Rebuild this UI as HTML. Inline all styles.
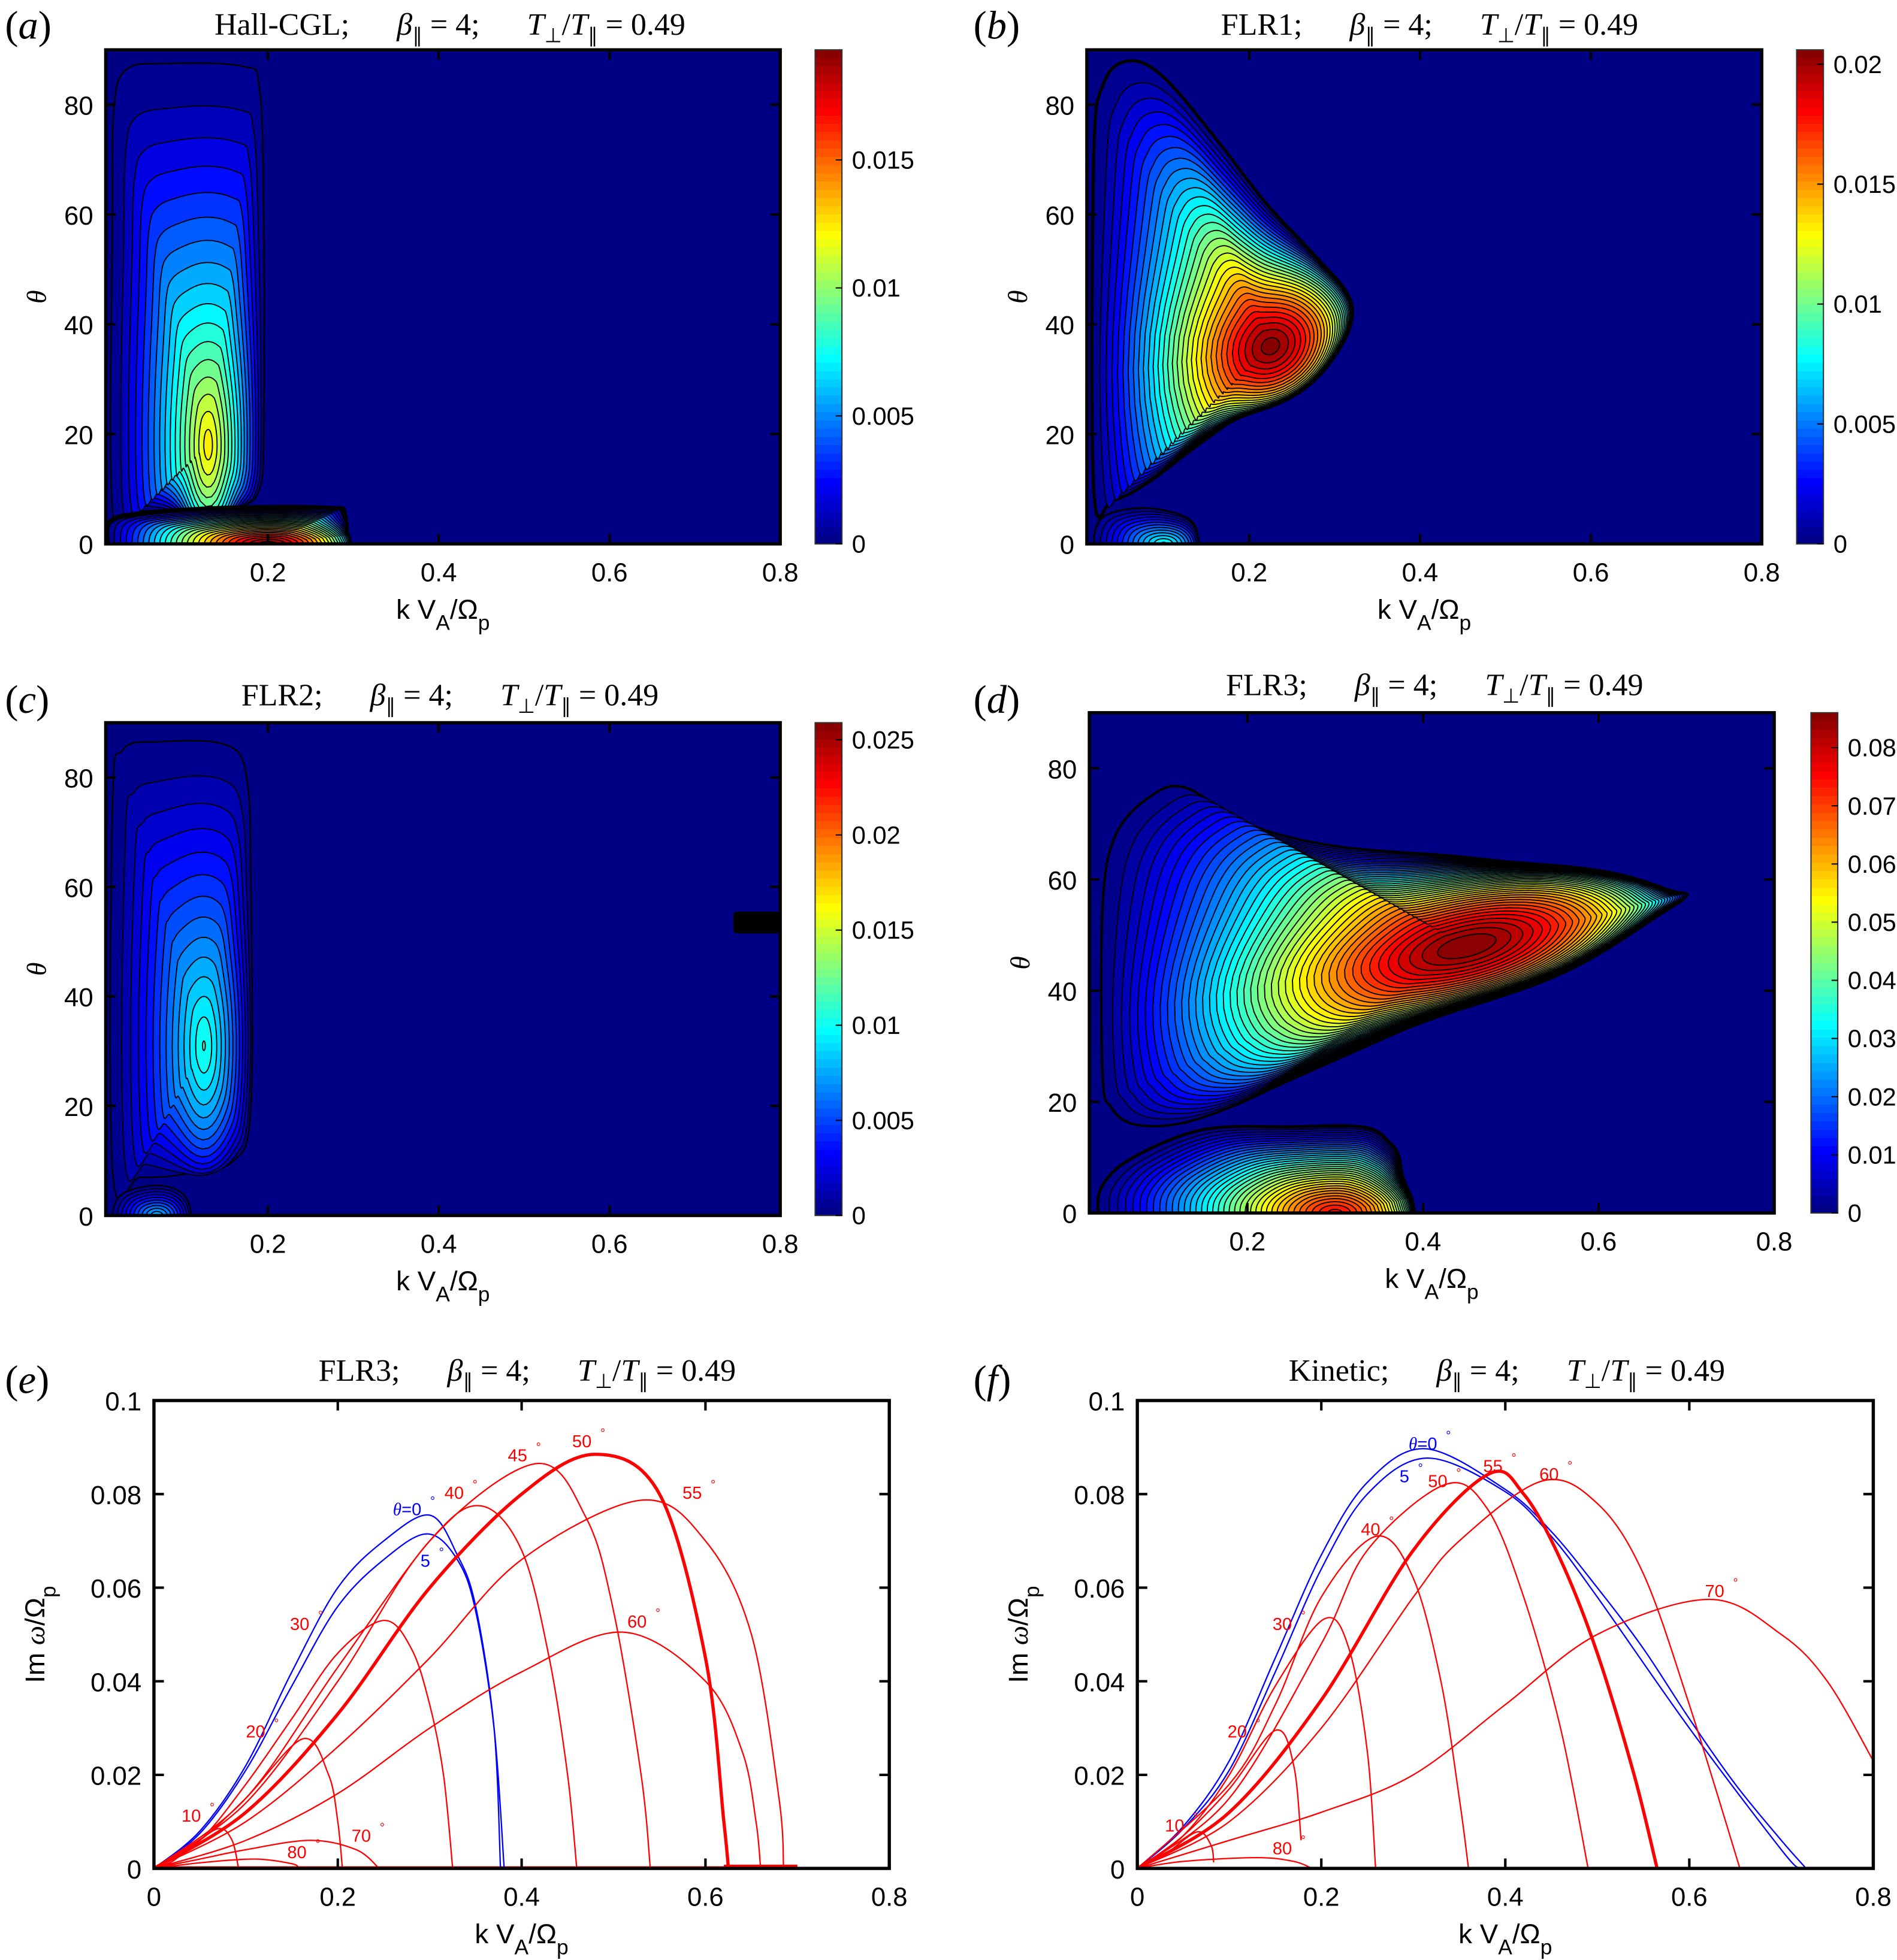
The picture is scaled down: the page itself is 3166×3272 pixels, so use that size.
<!DOCTYPE html>
<html><head><meta charset="utf-8">
<style>
html,body{margin:0;padding:0;background:#fff;}
svg{display:block;}
text{font-family:"Liberation Sans",sans-serif;}
.serif{font-family:"Liberation Serif",serif;}
</style></head>
<body>
<svg id="fig" xmlns="http://www.w3.org/2000/svg" width="3166" height="3272" viewBox="0 0 1522 1573">
<rect x="0" y="0" width="1522" height="1573" fill="#fff"/>
</svg>
<script>
// ---------- Contour data (k, theta in data units) ----------
const aMax = 0.0193, aStep = 0.00075;
const a1K = [0.018,0.018,0.02,0.035,0.08,0.17,0.19,0.195,0.195,0.19,0.17,0.12,0.05];
const a1T = [6,60,80,86.5,87.5,87,83,60,20,10,7,6.5,6];
const a1Peak = [0.13,18,0.0125];
const a2K = [0.012,0.015,0.05,0.15,0.27,0.29,0.29,0.27,0.15,0.05,0.015];
const a2T = [0,4,5.5,6.5,6.5,5,-5,-6.5,-6.5,-5.5,-4];
const a2Peak = [0.2,0,0.0193];

const bMax = 0.0206, bStep = 0.00065;
const b1K = [0.018,0.018,0.03,0.06,0.1,0.16,0.22,0.28,0.315,0.315,0.29,0.22,0.14,0.08,0.04];
const b1T = [10,70,84,88,85,74,62,52,45,40,35,27,18,11,8];
const b1Peak = [0.225,36,0.0205];
const b2K = [0.018,0.03,0.08,0.13,0.14,0.13,0.08,0.03];
const b2T = [0,5,6.5,4.5,0,-4.5,-6.5,-5];
const b2Peak = [0.1,0,0.008];

const cMax = 0.0259, cStep = 0.0008;
const c1K = [0.018,0.018,0.03,0.07,0.15,0.175,0.18,0.18,0.16,0.1,0.05];
const c1T = [8,75,85,86.5,86,80,60,20,10,7.5,7];
const c1Peak = [0.125,31,0.0105];
const c2K = [0.018,0.03,0.07,0.1,0.11,0.1,0.07,0.03];
const c2T = [0,4,5.5,4,0,-4,-5.5,-4];
const c2Peak = [0.07,0,0.008];

const dMax = 0.086, dStep = 0.002;
const d1K = [0.035,0.035,0.05,0.09,0.13,0.2,0.3,0.45,0.6,0.68,0.7,0.66,0.55,0.45,0.35,0.25,0.18,0.12,0.07,0.045];
const d1T = [25,55,68,75,76.5,70,66,64,61,58,57,53,44,38,31,24,19,16,16,19];
const d1Peak = [0.45,48,0.086];
const d2K = [0.03,0.035,0.07,0.15,0.25,0.33,0.36,0.375,0.375,0.36,0.33,0.25,0.15,0.07,0.035];
const d2T = [0,5,10,15,15.5,15.5,13,8,-8,-13,-15.5,-15.5,-15,-10,-5];
const d2Peak = [0.3,0,0.075];

// colorbar tick labels
const aCbTicks = [0,0.005,0.01,0.015];
const aCbLabels = ["0","0.005","0.01","0.015"];
const bCbTicks = [0,0.005,0.01,0.015,0.02];
const bCbLabels = ["0","0.005","0.01","0.015","0.02"];
const cCbTicks = [0,0.005,0.01,0.015,0.02,0.025];
const cCbLabels = ["0","0.005","0.01","0.015","0.02","0.025"];
const dCbTicks = [0,0.01,0.02,0.03,0.04,0.05,0.06,0.07,0.08];
const dCbLabels = ["0","0.01","0.02","0.03","0.04","0.05","0.06","0.07","0.08"];
const thetaTicks = [0,20,40,60,80];
const kTicksHeat = [0.2,0.4,0.6,0.8];
const kTicksLine = [0,0.2,0.4,0.6,0.8];
const kTickLabelsLine = ["0","0.2","0.4","0.6","0.8"];
const gTicks = [0,0.02,0.04,0.06,0.08,0.1];
const gTickLabels = ["0","0.02","0.04","0.06","0.08","0.1"];

// ---------- Growth-rate curves ----------
const eAngles = ["0","5","10","20","30","40","45","50","55","60","70","80"];
const eK = [
 [0,0.05,0.1,0.15,0.2,0.25,0.3,0.33,0.35,0.37,0.377],
 [0,0.05,0.1,0.15,0.2,0.25,0.297,0.33,0.35,0.37,0.381],
 [0,0.02,0.04,0.07,0.085,0.092],
 [0,0.05,0.1,0.162,0.19,0.2,0.205],
 [0,0.05,0.1,0.15,0.2,0.25,0.28,0.3,0.315,0.325],
 [0,0.1,0.2,0.3,0.355,0.4,0.43,0.45,0.46],
 [0,0.1,0.2,0.3,0.415,0.47,0.5,0.53,0.54],
 [0,0.1,0.2,0.3,0.4,0.48,0.55,0.6,0.62,0.625],
 [0,0.1,0.2,0.3,0.4,0.53,0.6,0.65,0.68,0.685],
 [0,0.1,0.2,0.3,0.4,0.51,0.6,0.64,0.655,0.66],
 [0,0.05,0.1,0.17,0.22,0.245],
 [0,0.05,0.11,0.15,0.158]
];
const eG = [
 [0,0.008,0.022,0.042,0.06,0.07,0.0755,0.067,0.056,0.03,0],
 [0,0.0075,0.021,0.039,0.056,0.066,0.0715,0.066,0.055,0.03,0],
 [0,0.0015,0.0045,0.0085,0.006,0],
 [0,0.006,0.015,0.0277,0.02,0.01,0],
 [0,0.006,0.018,0.032,0.046,0.053,0.047,0.035,0.02,0],
 [0,0.015,0.043,0.07,0.0775,0.068,0.045,0.02,0],
 [0,0.014,0.04,0.07,0.0865,0.075,0.055,0.02,0],
 [0,0.012,0.033,0.06,0.08,0.0885,0.08,0.045,0.01,0],
 [0,0.01,0.026,0.045,0.066,0.0787,0.07,0.05,0.015,0],
 [0,0.006,0.016,0.03,0.042,0.0505,0.04,0.025,0.01,0],
 [0,0.002,0.004,0.006,0.004,0],
 [0,0.0012,0.002,0.001,0]
];
const eColors = ["blue","blue","red","red","red","red","red","red","red","red","red","red"];
const eThick = [0,0,0,0,0,0,0,1,0,0,0,0];
const eLabelK = [0.26,0.29,0.03,0.1,0.148,0.316,0.385,0.455,0.575,0.515,0.215,0.145];
const eLabelG = [0.0755,0.0645,0.0100,0.028,0.051,0.079,0.087,0.090,0.079,0.0515,0.0057,0.0022];

const fAngles = ["0","5","10","20","30","40","50","55","60","70","80"];
const fK = [
 [0,0.05,0.1,0.15,0.2,0.25,0.313,0.4,0.45,0.5,0.55,0.6,0.65,0.7,0.727],
 [0,0.05,0.1,0.15,0.2,0.25,0.315,0.4,0.45,0.5,0.6,0.7,0.72],
 [0,0.03,0.065,0.08,0.083],
 [0,0.05,0.1,0.15,0.17,0.178],
 [0,0.05,0.1,0.15,0.203,0.23,0.25,0.259],
 [0,0.1,0.15,0.2,0.26,0.3,0.33,0.35,0.36],
 [0,0.1,0.2,0.25,0.334,0.38,0.42,0.46,0.49],
 [0,0.1,0.2,0.3,0.382,0.42,0.46,0.5,0.54,0.565],
 [0,0.1,0.2,0.3,0.35,0.44,0.5,0.55,0.6,0.655],
 [0,0.1,0.2,0.3,0.4,0.5,0.622,0.7,0.75,0.8],
 [0,0.05,0.13,0.17,0.19]
];
const fG = [
 [0,0.009,0.023,0.045,0.067,0.0825,0.0897,0.081,0.072,0.06,0.047,0.032,0.018,0.006,0],
 [0,0.0085,0.021,0.042,0.064,0.08,0.0877,0.0805,0.071,0.058,0.03,0.004,0],
 [0,0.003,0.0078,0.005,0.0013],
 [0,0.007,0.017,0.0295,0.022,0.006],
 [0,0.007,0.02,0.039,0.0533,0.047,0.025,0],
 [0,0.018,0.035,0.058,0.071,0.062,0.04,0.015,0],
 [0,0.015,0.048,0.068,0.082,0.077,0.058,0.03,0],
 [0,0.012,0.036,0.068,0.0843,0.08,0.066,0.046,0.02,0],
 [0,0.01,0.03,0.058,0.07,0.0828,0.078,0.063,0.035,0],
 [0,0.006,0.012,0.02,0.035,0.05,0.0575,0.05,0.04,0.023],
 [0,0.0015,0.0023,0.0015,0]
];
const fColors = ["blue","blue","red","red","red","red","red","red","red","red","red"];
const fThick = [0,0,0,0,0,0,0,1,0,0,0];
const fLabelK = [0.295,0.285,0.03,0.098,0.147,0.243,0.316,0.376,0.437,0.617,0.147];
const fLabelG = [0.0895,0.0825,0.0079,0.028,0.051,0.0712,0.0815,0.0847,0.083,0.058,0.003];

// ---------- helpers ----------
const NS = "http://www.w3.org/2000/svg";
const svg = document.getElementById('fig');
function mk(tag, attrs, parent){
  const e = document.createElementNS(NS, tag);
  for (const k in attrs) e.setAttribute(k, attrs[k]);
  (parent||svg).appendChild(e);
  return e;
}
function jet(x){
  x = Math.max(0, Math.min(1, x));
  const c = v => Math.round(255*Math.max(0, Math.min(1, v)));
  return `rgb(${c(1.5-Math.abs(4*x-3))},${c(1.5-Math.abs(4*x-2))},${c(1.5-Math.abs(4*x-1))})`;
}
function crSegs(pts, closed){
  const n = pts.length, segs = [];
  const get = i => closed ? pts[(i+n)%n] : pts[Math.max(0, Math.min(n-1, i))];
  const last = closed ? n : n-1;
  for (let i=0;i<last;i++){
    const p0=get(i-1), p1=get(i), p2=get(i+1), p3=get(i+2);
    segs.push([p1,[p1[0]+(p2[0]-p0[0])/6, p1[1]+(p2[1]-p0[1])/6],[p2[0]-(p3[0]-p1[0])/6, p2[1]-(p3[1]-p1[1])/6],p2]);
  }
  return segs;
}
function crPath(pts, closed){
  let d = `M${pts[0][0].toFixed(2)},${pts[0][1].toFixed(2)}`;
  crSegs(pts, closed).forEach(s=>{
    d += `C${s[1][0].toFixed(2)},${s[1][1].toFixed(2)} ${s[2][0].toFixed(2)},${s[2][1].toFixed(2)} ${s[3][0].toFixed(2)},${s[3][1].toFixed(2)}`;
  });
  return closed ? d+'Z' : d;
}
function sampleClosed(pts, per){
  const out = [];
  crSegs(pts, true).forEach(s=>{
    for (let i=0;i<per;i++){
      const t=i/per, u=1-t;
      out.push([u*u*u*s[0][0]+3*u*u*t*s[1][0]+3*u*t*t*s[2][0]+t*t*t*s[3][0],
                u*u*u*s[0][1]+3*u*u*t*s[1][1]+3*u*t*t*s[2][1]+t*t*t*s[3][1]]);
    }
  });
  return out;
}
function axes(P){
  P.sx = k => P.x0 + (k - P.kmin)/(P.kmax - P.kmin)*(P.x1 - P.x0);
  P.sy = t => P.y1 - (t - P.tmin)/(P.tmax - P.tmin)*(P.y1 - P.y0);
  return P;
}
function titleText(P, name, cx, y){
  const t = mk('text', {x:cx, y:y, 'text-anchor':'middle', 'font-size':25, class:'serif'});
  
  
  t.innerHTML = `${name};<tspan dx="38" font-style="italic">β</tspan><tspan font-size="16" dy="6">∥</tspan><tspan dy="-6"> = 4;</tspan><tspan dx="38" font-style="italic">T</tspan><tspan font-size="16" dy="6">⊥</tspan><tspan dy="-6">/</tspan><tspan font-style="italic">T</tspan><tspan font-size="16" dy="6">∥</tspan><tspan dy="-6"> = 0.49</tspan>`;
}
function panelLabel(id, x, y){
  const t = mk('text', {x:x, y:y, 'font-size':32, class:'serif'});
  
  
  t.innerHTML = '(<tspan font-style="italic">'+id+'</tspan>)';
}
function kLabel(P, y){
  const t = mk('text', {x:(P.x0+P.x1)/2, y:y, 'text-anchor':'middle', 'font-size':22});
  
  
  t.innerHTML = 'k V<tspan font-size="17" dy="9">A</tspan><tspan dy="-9">/Ω</tspan><tspan font-size="17" dy="9">p</tspan>';
}
function frame(P, xt, xtl, yt, ytl){
  const g = mk('g', {});
  
  
  xt.forEach((v,i)=>{
    const x = P.sx(v);
    mk('line',{x1:x,x2:x,y1:P.y1,y2:P.y1-8,stroke:'#000','stroke-width':2},g);
    mk('line',{x1:x,x2:x,y1:P.y0,y2:P.y0+8,stroke:'#000','stroke-width':2},g);
    const t = mk('text',{x:x,y:P.y1+30,'text-anchor':'middle','font-size':21},g);
    
    
    t.textContent = xtl[i];
  });
  yt.forEach((v,i)=>{
    const y = P.sy(v);
    mk('line',{x1:P.x0,x2:P.x0+8,y1:y,y2:y,stroke:'#000','stroke-width':2},g);
    mk('line',{x1:P.x1,x2:P.x1-8,y1:y,y2:y,stroke:'#000','stroke-width':2},g);
    const t = mk('text',{x:P.x0-10,y:y+8,'text-anchor':'end','font-size':21},g);
    
    
    t.textContent = ytl[i];
  });
  mk('rect',{x:P.x0,y:P.y0,width:P.x1-P.x0,height:P.y1-P.y0,fill:'none',stroke:'#000','stroke-width':2.6},g);
}

// ---------- heatmap panels ----------
// b = [K, T, peak, gamma, edgeWidth, ellA(px), ellB(px), ellAngle(deg)]
function blob(P, g, b, step, max){
  const K=b[0], T=b[1], peak=b[2], gam=b[3], edgeW=b[4], ea=b[5], eb=b[6], al=b[7]*Math.PI/180;
  const pk = P.sx(peak[0]), pt = P.sy(peak[1]), pv = peak[2];
  const outer = sampleClosed(K.map((k,j)=>[P.sx(k), P.sy(T[j])]), 8);
  const dirs = outer.map(p=>{
    const dx=p[0]-pk, dy=p[1]-pt, phi=Math.atan2(dy,dx);
    const c=Math.cos(phi-al), s=Math.sin(phi-al);
    const r = 1/Math.sqrt((c/ea)*(c/ea)+(s/eb)*(s/eb));
    return [dx, dy, r*Math.cos(phi), r*Math.sin(phi)];
  });
  const grp = mk('g', {}, g);
  
  
  for (let i=0; i*step < pv; i++){
    const v = i*step, s = v/pv;
    const sc = Math.pow(1 - s, gam), m = Math.pow(s, 0.7);
    let d = '';
    dirs.forEach((q,j)=>{
      const x = pk + sc*((1-m)*q[0] + m*q[2]);
      const y = pt + sc*((1-m)*q[1] + m*q[3]);
      d += (j?'L':'M') + x.toFixed(2) + ',' + y.toFixed(2);
    });
    const p = mk('path', {d:d+'Z', fill:jet((v+step*0.5)/max), stroke:'#000',
      'stroke-width': i===0 ? edgeW : 0.9, 'stroke-linejoin':'round'}, grp);
    
    
  }
}
function heatPanel(P, blobs, step, max, cbTicks, cbLabels){
  axes(P);
  const clip = mk('clipPath', {id:'clip-'+P.id});
  mk('rect', {x:P.x0,y:P.y0,width:P.x1-P.x0,height:P.y1-P.y0}, clip);
  const g = mk('g', {'clip-path':`url(#clip-${P.id})`});
  
  
  mk('rect', {x:P.x0,y:P.y0,width:P.x1-P.x0,height:P.y1-P.y0,fill:jet(0.005)}, g);
  blobs.forEach(b=>blob(P, g, b, step, max));
  frame(P, kTicksHeat, kTicksHeat.map(v=>v.toFixed(1)), thetaTicks, thetaTicks.map(String));
  const cb = mk('g', {});
  
  
  const grad = mk('linearGradient', {id:'grad-'+P.id, x1:0, y1:1, x2:0, y2:0});
  const N = 60;
  for (let i=0;i<N;i++){
    mk('stop', {offset:i/N, 'stop-color':jet((i+0.5)/N)}, grad);
    mk('stop', {offset:(i+1)/N, 'stop-color':jet((i+0.5)/N)}, grad);
  }
  mk('rect', {x:P.cx0, y:P.y0, width:P.cx1-P.cx0, height:P.y1-P.y0, fill:`url(#grad-${P.id})`, stroke:'#333','stroke-width':1}, cb);
  cbTicks.forEach((v,i)=>{
    const y = P.y1 - v/max*(P.y1-P.y0);
    mk('line', {x1:P.cx1-5, x2:P.cx1, y1:y, y2:y, stroke:'#000', 'stroke-width':1}, cb);
    const t = mk('text', {x:P.cx1+8, y:y+7, 'font-size':20}, cb);
    
    
    t.textContent = cbLabels[i];
  });
  kLabel(P, P.y1+60);
  const th = mk('text', {x:0, y:0, 'font-size':22, 'font-style':'italic', class:'serif', 'text-anchor':'middle',
    transform:`translate(${P.x0-48},${(P.y0+P.y1)/2}) rotate(-90)`});
  
  
  th.textContent = 'θ';
}

const PA = {id:'a', x0:84.8, x1:626, y0:40, y1:436.5, kmin:0.01, kmax:0.8, tmin:0, tmax:90, cx0:654, cx1:675.5};
const PB = {id:'b', x0:872, x1:1413.5, y0:40, y1:436.5, kmin:0.01, kmax:0.8, tmin:0, tmax:90, cx0:1441.5, cx1:1463};
const PC = {id:'c', x0:84.8, x1:626, y0:580, y1:975.5, kmin:0.01, kmax:0.8, tmin:0, tmax:90, cx0:654, cx1:675.5};
const PD = {id:'d', x0:874, x1:1423.5, y0:572, y1:973.5, kmin:0.02, kmax:0.8, tmin:0, tmax:90, cx0:1453, cx1:1474.5};

heatPanel(PA, [[a1K,a1T,a1Peak,0.8,1.2,45,160,0],[a2K,a2T,a2Peak,0.75,4,110,28,0]], aStep, aMax, aCbTicks, aCbLabels);
heatPanel(PB, [[b1K,b1T,b1Peak,0.65,2.5,110,90,-35],[b2K,b2T,b2Peak,0.8,1.5,45,25,0]], bStep, bMax, bCbTicks, bCbLabels);
heatPanel(PC, [[c1K,c1T,c1Peak,0.8,1.2,45,160,0],[c2K,c2T,c2Peak,0.8,1.2,30,20,0]], cStep, cMax, cCbTicks, cCbLabels);
heatPanel(PD, [[d1K,d1T,d1Peak,0.6,2,230,80,-14],[d2K,d2T,d2Peak,0.7,2.5,120,60,0]], dStep, dMax, dCbTicks, dCbLabels);
(function(){
  const s = mk('rect', {x:PC.sx(0.745), y:PC.sy(55.5), width:PC.x1-PC.sx(0.745), height:PC.sy(51.5)-PC.sy(55.5), rx:3, fill:'#000'});
  
  
})();

// ---------- line panels ----------
function linePanel(P, angles, Ks, Gs, colors, thick, lk, lg){
  axes(P);
  const clip = mk('clipPath', {id:'clip-'+P.id});
  mk('rect', {x:P.x0,y:P.y0,width:P.x1-P.x0,height:P.y1-P.y0}, clip);
  const g = mk('g', {'clip-path':`url(#clip-${P.id})`});
  
  
  Ks.forEach((K,i)=>{
    const pts = K.map((k,j)=>[P.sx(k), P.sy(Gs[i][j])]);
    const p = mk('path', {d:crPath(pts,false), fill:'none', stroke:colors[i]==='blue'?'#0000ff':'#ff0000',
      'stroke-width': thick[i]?2.6:1.1}, g);
    
    
  });
  frame(P, kTicksLine, kTickLabelsLine, gTicks, gTickLabels);
  angles.forEach((a,i)=>{
    const t = mk('text', {x:P.sx(lk[i]), y:P.sy(lg[i]), 'font-size':14, fill:colors[i]==='blue'?'#0000ff':'#ff0000'});
    
    
    t.innerHTML = (i===0 ? '<tspan font-style="italic" class="serif">θ</tspan>=' : '') + a + '<tspan font-size="10" dx="7" dy="-8">°</tspan>';
  });
  kLabel(P, P.y1+60);
  const yl = mk('text', {x:0, y:0, 'font-size':22, 'text-anchor':'middle',
    transform:`translate(${P.x0-88},${(P.y0+P.y1)/2}) rotate(-90)`});
  
  
  yl.innerHTML = 'Im  <tspan font-style="italic" class="serif">ω</tspan>/Ω<tspan font-size="17" dy="9">p</tspan>';
}
const PE = {id:'e', x0:123.5, x1:713.5, y0:1124, y1:1499.5, kmin:0, kmax:0.8, tmin:0, tmax:0.1};
const PF = {id:'f', x0:912.5, x1:1503, y0:1124, y1:1499.5, kmin:0, kmax:0.8, tmin:0, tmax:0.1};
axes(PE);
(function(){
  const z1 = mk('line', {x1:PE.sx(0), x2:PE.sx(0.7), y1:PE.y1-1, y2:PE.y1-1, stroke:'#ff0000','stroke-width':1.5});
  
  
  const z2 = mk('line', {x1:PE.sx(0.62), x2:PE.sx(0.7), y1:PE.y1-1.5, y2:PE.y1-1.5, stroke:'#ff0000','stroke-width':3});
  
  
})();
linePanel(PE, eAngles, eK, eG, eColors, eThick, eLabelK, eLabelG);
linePanel(PF, fAngles, fK, fG, fColors, fThick, fLabelK, fLabelG);

// ---------- titles & panel labels ----------
titleText(PA, 'Hall-CGL', 361, 28);
titleText(PB, 'FLR1', 1147, 28);
titleText(PC, 'FLR2', 361, 566);
titleText(PD, 'FLR3', 1151, 558);
titleText(PE, 'FLR3', 423, 1108);
titleText(PF, 'Kinetic', 1209, 1108);
panelLabel('a', 4, 31);
panelLabel('b', 781, 31);
panelLabel('c', 4, 572);
panelLabel('d', 781, 572);
panelLabel('e', 4, 1118);
panelLabel('f', 781, 1118);
</script>
</body></html>
